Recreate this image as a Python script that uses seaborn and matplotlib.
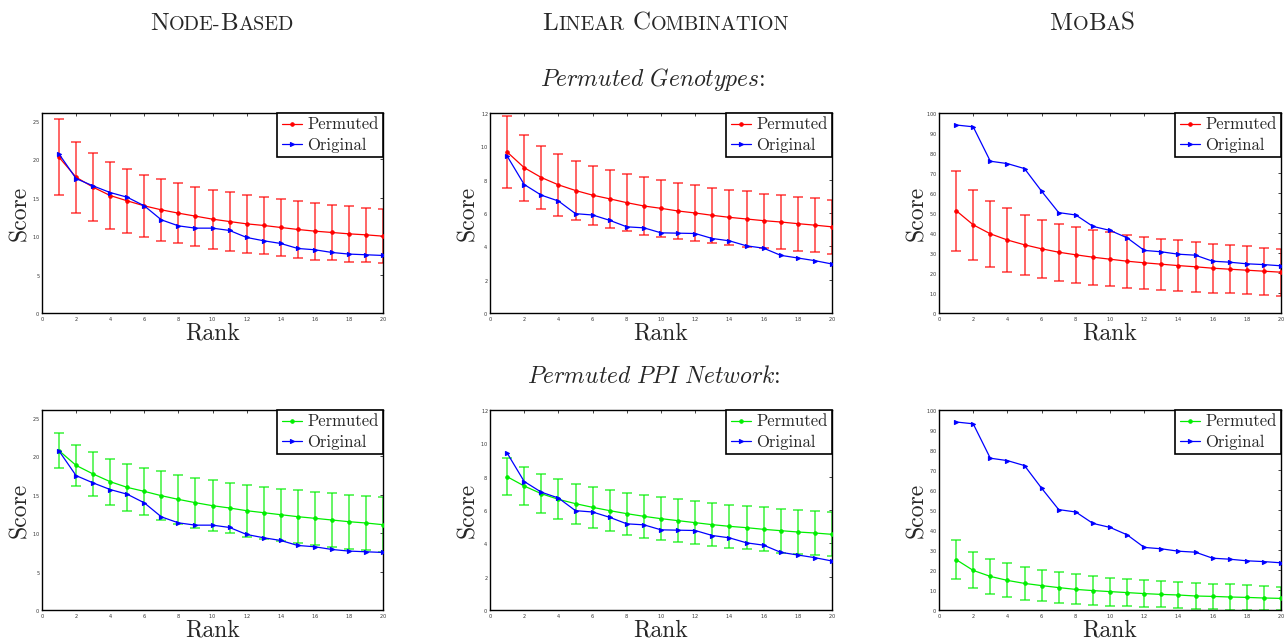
import numpy as np
import pandas as pd
import matplotlib
matplotlib.use('Agg')
import matplotlib.pyplot as plt
import seaborn as sns

sns.set_style('white')
plt.rcParams['mathtext.fontset'] = 'cm'
plt.rcParams['axes.unicode_minus'] = False
plt.rcParams['axes.formatter.use_mathtext'] = True

# ---- data ----
rank = list(range(1, 21))

# original scores (same in both rows)
node_orig = [20.67, 17.47, 16.52, 15.66, 15.05, 13.93, 12.11, 11.33, 11.03, 11.03,
             10.73, 9.82, 9.39, 9.04, 8.39, 8.22, 7.87, 7.66, 7.57, 7.48]
lin_orig = [9.42, 7.71, 7.07, 6.72, 5.96, 5.88, 5.56, 5.17, 5.11, 4.81,
            4.79, 4.77, 4.47, 4.33, 4.03, 3.89, 3.46, 3.30, 3.14, 2.94]
mobas_orig = [94.0, 93.1, 75.9, 74.7, 72.2, 60.9, 50.2, 49.0, 43.3, 41.3,
              37.6, 31.3, 30.6, 29.4, 28.9, 25.9, 25.4, 24.6, 24.2, 23.6]

# permuted genotypes: mean and std
node_geno = [20.24, 17.65, 16.35, 15.27, 14.58, 13.93, 13.41, 12.98, 12.59, 12.20,
             11.89, 11.59, 11.38, 11.12, 10.86, 10.64, 10.47, 10.29, 10.16, 9.99]
node_geno_sd = [4.93, 4.62, 4.41, 4.32, 4.15, 4.06, 4.02, 3.93, 3.85, 3.85,
                3.81, 3.76, 3.67, 3.72, 3.76, 3.72, 3.63, 3.64, 3.55, 3.55]
lin_geno = [9.66, 8.72, 8.13, 7.69, 7.35, 7.07, 6.85, 6.62, 6.42, 6.28,
            6.12, 6.00, 5.86, 5.74, 5.64, 5.54, 5.46, 5.36, 5.27, 5.17]
lin_geno_sd = [2.14, 1.99, 1.90, 1.85, 1.79, 1.77, 1.73, 1.72, 1.73, 1.71,
               1.69, 1.67, 1.67, 1.67, 1.67, 1.63, 1.63, 1.63, 1.62, 1.63]
mobas_geno = [51.2, 44.1, 39.6, 36.5, 34.1, 32.1, 30.4, 29.1, 27.9, 26.9,
              25.9, 25.1, 24.4, 23.7, 23.1, 22.4, 21.9, 21.4, 20.9, 20.4]
mobas_geno_sd = [20.0, 17.6, 16.6, 15.8, 15.1, 14.6, 14.2, 14.0, 13.7, 13.4,
                 13.2, 13.0, 12.7, 12.6, 12.4, 12.2, 12.0, 11.9, 11.7, 11.7]

# permuted PPI network: mean and std
node_ppi = [20.71, 18.80, 17.68, 16.68, 15.94, 15.42, 14.86, 14.38, 13.95, 13.56,
            13.26, 12.91, 12.65, 12.39, 12.13, 11.92, 11.70, 11.48, 11.31, 11.09]
node_ppi_sd = [2.25, 2.69, 2.81, 2.99, 3.08, 3.08, 3.16, 3.21, 3.25, 3.34,
               3.29, 3.38, 3.38, 3.38, 3.42, 3.46, 3.46, 3.51, 3.51, 3.55]
lin_ppi = [8.00, 7.44, 6.98, 6.64, 6.38, 6.16, 5.96, 5.78, 5.62, 5.48,
           5.36, 5.24, 5.12, 5.02, 4.94, 4.84, 4.76, 4.68, 4.62, 4.54]
lin_ppi_sd = [1.12, 1.12, 1.18, 1.20, 1.20, 1.22, 1.24, 1.26, 1.28, 1.28,
              1.28, 1.28, 1.30, 1.30, 1.30, 1.32, 1.32, 1.34, 1.32, 1.32]
mobas_ppi = [25.2, 19.8, 16.8, 14.8, 13.3, 12.2, 11.2, 10.3, 9.7, 9.2,
             8.7, 8.2, 7.8, 7.5, 7.0, 6.8, 6.5, 6.3, 6.0, 5.8]
mobas_ppi_sd = [9.6, 9.0, 8.7, 8.5, 8.2, 7.6, 7.6, 7.5, 7.3, 7.0,
                6.8, 6.6, 6.5, 6.3, 6.5, 6.4, 6.3, 6.2, 6.2, 5.9]

col_titles = ['Node-Based', 'Linear Combination', 'MoBaS']
row_titles = [r'$\mathit{Permuted\ Genotypes}$:', r'$\mathit{Permuted\ PPI\ Network}$:']

W, H = 1284, 641
fig = plt.figure(figsize=(W / 100, H / 100), dpi=100)

col_x = [(42, 383), (490, 832), (939, 1281)]
row_y = [(113, 313), (410, 610)]

panels = [
    # row, col, original, mean, sd, colour, ymax, ystep
    (0, 0, node_orig, node_geno, node_geno_sd, '#ff0000', 26, 5),
    (0, 1, lin_orig, lin_geno, lin_geno_sd, '#ff0000', 12, 2),
    (0, 2, mobas_orig, mobas_geno, mobas_geno_sd, '#ff0000', 100, 10),
    (1, 0, node_orig, node_ppi, node_ppi_sd, '#00ee00', 26, 5),
    (1, 1, lin_orig, lin_ppi, lin_ppi_sd, '#00ee00', 12, 2),
    (1, 2, mobas_orig, mobas_ppi, mobas_ppi_sd, '#00ee00', 100, 10),
]

for r, c, orig, mean, sd, col, ymax, ystep in panels:
    x0, x1 = col_x[c]
    y0, y1 = row_y[r]
    ax = fig.add_axes([x0 / W, 1 - y1 / H, (x1 - x0) / W, (y1 - y0) / H])

    ax.errorbar(rank, mean, yerr=sd, fmt='none', ecolor=col, alpha=0.65,
                elinewidth=1.3, capsize=3.5, capthick=1.3, zorder=1)
    df = pd.DataFrame({'Rank': rank, 'Permuted': mean, 'Original': orig})
    sns.lineplot(data=df, x='Rank', y='Permuted', ax=ax, color=col, lw=0.9,
                 marker='o', markersize=2.5, mec=col, mfc=col, label='Permuted', zorder=3)
    sns.lineplot(data=df, x='Rank', y='Original', ax=ax, color='#0000ff', lw=0.9,
                 marker='>', markersize=3, mec='#0000ff', mfc='#0000ff', label='Original', zorder=4)

    ax.set_xlim(0, 20)
    ax.set_ylim(0, ymax)
    ax.set_xticks(range(0, 21, 2))
    ax.set_yticks(np.arange(0, ymax + 0.1, ystep))
    ax.tick_params(direction='in', length=2, width=0.6, labelsize=3.6, pad=1.2,
                   top=True, right=True, labelcolor='#333333')
    for s in ax.spines.values():
        s.set_linewidth(1.0)
        s.set_color('black')

    ax.set_xlabel('Rank', family='cmr10', fontsize=17)
    ax.set_ylabel('Score', family='cmr10', fontsize=17)
    ax.xaxis.set_label_coords(0.5, -0.045)
    ax.yaxis.set_label_coords(-0.032, 0.5)

    leg = ax.legend(loc='upper right', borderaxespad=0, fancybox=False,
                    edgecolor='black', framealpha=1, handlelength=1.25,
                    handletextpad=0.3, borderpad=0.25, labelspacing=0.3,
                    prop={'family': 'cmr10', 'size': 12})
    leg.get_frame().set_linewidth(1.2)


def small_caps(xc, yb, word, big=18, small=14.5):
    runs = []
    for ch in word:
        if ch == ' ':
            runs.append((' ', big))
            continue
        size = big if ch.isupper() else small
        if runs and runs[-1][1] == size and runs[-1][0] != ' ':
            runs[-1] = (runs[-1][0] + ch.upper(), size)
        else:
            runs.append((ch.upper(), size))
    texts = []
    for s, size in runs:
        if s == ' ':
            texts.append(None)
        else:
            texts.append(fig.text(0, yb / H, s, fontsize=size, family='cmr10', va='baseline'))
    fig.canvas.draw()
    rend = fig.canvas.get_renderer()
    widths = []
    for t, (s, size) in zip(texts, runs):
        if t is None:
            widths.append(0.33 * size * 100 / 72)
        else:
            widths.append(t.get_window_extent(rend).width)
    x = xc - sum(widths) / 2
    for t, w in zip(texts, widths):
        if t is not None:
            t.set_x(x / W)
            t.set_y(1 - yb / H)
        x += w


for title, xc in zip(col_titles, [222, 666, 1092]):
    small_caps(xc, 30, title)

fig.text(653 / W, 1 - 86 / H, row_titles[0], fontsize=17, family='cmr10',
         ha='center', va='baseline')
fig.text(654 / W, 1 - 383 / H, row_titles[1], fontsize=17, family='cmr10',
         ha='center', va='baseline')

fig.savefig('out.png', dpi=100)
